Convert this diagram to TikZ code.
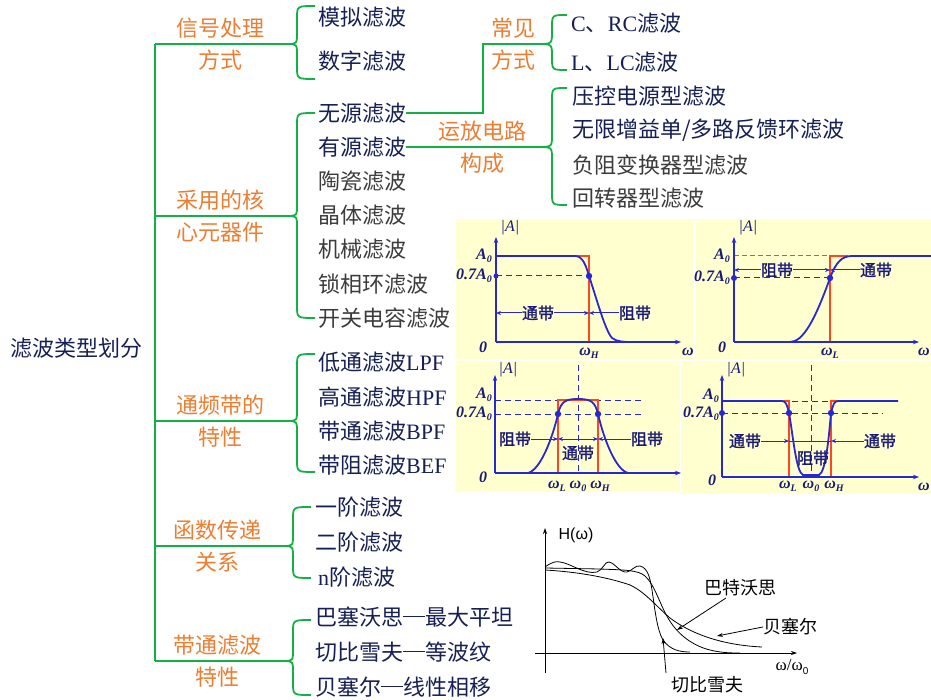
\documentclass[tikz,border=0pt]{standalone}
\usepackage{fontspec}
\setmainfont{Liberation Serif}
\newfontfamily\cjk{Noto Sans CJK SC}
\newfontfamily\cjkb[FakeBold=1.5]{Noto Sans CJK SC}
\newfontfamily\lsans{Liberation Sans}
\usetikzlibrary{arrows.meta}
\definecolor{tgreen}{RGB}{20,176,70}
\definecolor{torange}{RGB}{237,125,49}
\definecolor{tnavy}{RGB}{22,32,85}
\definecolor{tgray}{RGB}{60,60,60}
\definecolor{pblue}{RGB}{40,40,210}
\definecolor{plab}{RGB}{25,25,120}
\definecolor{pred}{RGB}{255,70,30}
\definecolor{pyel}{RGB}{255,255,208}
\newcommand\lat[1]{{\rmfamily #1}}
\newcommand\sub[1]{\raisebox{-0.45ex}{\fontsize{10}{10}\selectfont #1}}
\newcommand\cdash{\raisebox{0.36em}{\rule{1em}{0.07em}}}
\newcommand\mybrace[6]{%
 \draw[conn] (#1,#2) .. controls (#5,#2) .. (#5,{#2-12}) -- (#5,{#3+12}) .. controls (#5,#3) .. (#6,#3);
 \draw[conn] (#1,#2) .. controls (#5,#2) .. (#5,{#2+12}) -- (#5,{#4-12}) .. controls (#5,#4) .. (#6,#4);}
\tikzset{
 cat/.style={text=torange, font=\fontsize{22}{24}\selectfont\cjk, inner sep=0},
 item/.style={text=tnavy, font=\fontsize{22}{24}\selectfont\cjk, anchor=west, inner sep=0},
 gitem/.style={item, text=tgray},
 conn/.style={tgreen, line width=1.8},
 pax/.style={pblue, line width=1.4, -{Stealth[length=6pt,width=4.5pt]}},
 pline/.style={pblue, line width=1.8},
 pdash/.style={pblue, line width=1, dash pattern=on 6pt off 4pt},
 rline/.style={pred, line width=1.3},
 parr/.style={pblue, line width=1, -{Stealth[length=5pt,width=4pt]}},
 ptxt/.style={text=plab, font=\fontsize{16}{17}\selectfont\cjkb, inner sep=0},
 pmath/.style={text=plab, font=\fontsize{16}{17}\selectfont\bfseries\itshape, inner sep=0},
 pabs/.style={text=plab, font=\fontsize{16}{17}\selectfont\itshape, inner sep=0},
 bline/.style={black, line width=0.8},
 barr/.style={black, line width=0.8, -{Stealth[length=6pt,width=4pt]}},
 btxt/.style={text=black, font=\fontsize{18}{20}\selectfont\cjk, inner sep=0},
}
\begin{document}
\begin{tikzpicture}[x=1pt,y=-1pt]
\fill[white] (0,0) rectangle (931,700);
\useasboundingbox (0,0) rectangle (931,700);
% ---------- tree ----------
\node[item] (root) at (10,348) {滤波类型划分};
\node[cat] (k1a) at (220,28) {信号处理};
\node[cat] (k1b) at (220,60) {方式};
\node[cat] (k2a) at (220,200) {采用的核};
\node[cat] (k2b) at (220,232) {心元器件};
\node[cat] (k3a) at (220,405) {通频带的};
\node[cat] (k3b) at (220,437) {特性};
\node[cat] (k4a) at (217,530) {函数传递};
\node[cat] (k4b) at (217,562) {关系};
\node[cat] (k5a) at (217,645) {带通滤波};
\node[cat] (k5b) at (217,677) {特性};
\node[cat] (k6a) at (513,28) {常见};
\node[cat] (k6b) at (513,60) {方式};
\node[cat] (k7a) at (482,131) {运放电路};
\node[cat] (k7b) at (482,163) {构成};

\node[item] (m1) at (318,17) {模拟滤波};
\node[item] (m2) at (318,61) {数字滤波};
\node[item] (c1) at (318,113) {无源滤波};
\node[item] (c2) at (318,147) {有源滤波};
\node[gitem] (c3) at (318,181) {陶瓷滤波};
\node[gitem] (c4) at (318,215) {晶体滤波};
\node[gitem] (c5) at (318,249) {机械滤波};
\node[gitem] (c6) at (318,284) {锁相环滤波};
\node[gitem] (c7) at (318,318) {开关电容滤波};
\node[item] (p1) at (318,362) {低通滤波\lat{LPF}};
\node[item] (p2) at (318,397) {高通滤波\lat{HPF}};
\node[item] (p3) at (318,431) {带通滤波\lat{BPF}};
\node[item] (p4) at (318,465) {带阻滤波\lat{BEF}};
\node[item] (f1) at (315,507) {一阶滤波};
\node[item] (f2) at (315,542) {二阶滤波};
\node[item] (f3) at (318,577) {\lat{n}阶滤波};
\node[item] (b1) at (315,617) {巴塞沃思\cdash 最大平坦};
\node[item] (b2) at (315,652) {切比雪夫\cdash 等波纹};
\node[item] (b3) at (315,687) {贝塞尔\cdash 线性相移};
\node[item] (r1) at (571,23) {\lat{C}、\lat{RC}滤波};
\node[item] (r2) at (571,62) {\lat{L}、\lat{LC}滤波};
\node[item] (o1) at (572,96) {压控电源型滤波};
\node[item] (o2) at (572,130) {无限增益单/多路反馈环滤波};
\node[gitem] (o3) at (572,165) {负阻变换器型滤波};
\node[gitem] (o4) at (572,198) {回转器型滤波};

\draw[conn] (155,44) -- (155,661);
\draw[conn] (155,44) -- (287,44);
\draw[conn] (155,216) -- (287,216);
\draw[conn] (155,421) -- (287,421);
\draw[conn] (155,546) -- (283,546);
\draw[conn] (155,661) -- (283,661);
\mybrace{287}{44}{6}{79}{297}{315}
\mybrace{287}{216}{113}{318}{297}{315}
\mybrace{287}{421}{354}{472}{297}{315}
\mybrace{283}{546}{507}{578}{293}{311}
\mybrace{283}{661}{620}{695}{293}{311}
\draw[conn] (c1.east) -- (483,113) -- (483,44) -- (537,44);
\draw[conn] (c2.east) -- (537,147);
\mybrace{537}{44}{15}{70}{552}{567}
\mybrace{537}{147}{88}{205}{552}{567}

% ---------- panels ----------
\fill[pyel] (456,219) rectangle (694,359);
\fill[pyel] (695,219) rectangle (931,359);
\fill[pyel] (456,361) rectangle (680,492);
\fill[pyel] (681,361) rectangle (931,494);

% ---- plot 1 (LPF) ----
\draw[rline] (496,256) -- (589,256) -- (589,342);
\draw[pdash] (496,276) -- (589,276);
\draw[pline] (496,256) -- (575,256) .. controls (583,256) and (586,266) .. (589,276)
  .. controls (597,300) and (605,330) .. (612,338) .. controls (617,342) and (625,342) .. (632,342);
\draw[pax] (496,342) -- (496,237);
\draw[pax] (496,342) -- (681,342);
\fill[pblue] (589,276) circle (3.2);
\fill[pblue] (496,276) circle (2.5);
\node[pabs] (a1) at (510,228) {|A|};
\node[pmath, anchor=east] (a1A) at (492,256) {A\sub{0}};
\node[pmath, anchor=east] (a1B) at (492,276) {0.7A\sub{0}};
\node[pmath] (a1Z) at (483,347) {0};
\node[pmath] (a1W) at (688,352) {ω};
\node[pmath] (a1H) at (589,353) {ω\sub{H}};
\node[ptxt] (t1a) at (538,313) {通带};
\node[ptxt] (t1b) at (635,313) {阻带};
\draw[parr] (t1a.west) -- (496,313);
\draw[parr] (t1a.east) -- (589,313);
\draw[parr] (t1b.west) -- (589,313);

% ---- plot 2 (HPF) ----
\draw[pred, line width=1, dash pattern=on 5pt off 3pt] (734,256) -- (830,256);
\draw[rline] (830,342) -- (830,256) -- (848,256);
\draw[pdash] (734,278) -- (830,278);
\draw[pline] (734,342) -- (790,342) .. controls (803,342) and (815,320) .. (830,278)
  .. controls (836,262) and (842,256) .. (852,256) -- (932,256);
\draw[pax] (734,342) -- (734,237);
\draw[pax] (734,342) -- (919,342);
\fill[pblue] (830,278) circle (3.2);
\fill[pblue] (734,278) circle (3);
\node[pabs] (a2) at (748,228) {|A|};
\node[pmath, anchor=east] (a2A) at (730,256) {A\sub{0}};
\node[pmath, anchor=east] (a2B) at (730,278) {0.7A\sub{0}};
\node[pmath] (a2Z) at (722,347) {0};
\node[pmath] (a2W) at (924,352) {ω};
\node[pmath] (a2L) at (830,353) {ω\sub{L}};
\node[ptxt] (t2a) at (777,270) {阻带};
\node[ptxt] (t2b) at (876,270) {通带};
\draw[parr] (t2a.west) -- (734,270);
\draw[parr] (t2a.east) -- (830,270);
\draw[parr] (t2b.west) -- (830,270);

% ---- plot 3 (BPF) ----
\draw[pdash] (495,400) -- (642,400);
\draw[pdash] (495,414) -- (642,414);
\draw[pdash] (578,365) -- (578,473);
\draw[rline] (558,473) -- (558,400) -- (598,400) -- (598,473);
\draw[pline] (528,473) .. controls (540,470) and (552,440) .. (558,414)
  .. controls (561,401) and (566,399) .. (578,399) .. controls (590,399) and (595,401) .. (598,414)
  .. controls (604,440) and (616,470) .. (628,473);
\draw[pax] (495,473) -- (495,375);
\draw[pax] (495,473) -- (681,473);
\fill[pblue] (558,414) circle (3.2);
\fill[pblue] (598,414) circle (3.2);
\node[pabs] (a3) at (508,370) {|A|};
\node[pmath, anchor=east] (a3A) at (492,395) {A\sub{0}};
\node[pmath, anchor=east] (a3B) at (492,414) {0.7A\sub{0}};
\node[pmath] (a3Z) at (483,477) {0};
\node[pmath] (a3L) at (557,486) {ω\sub{L}};
\node[pmath] (a3O) at (578,486) {ω\sub{0}};
\node[pmath] (a3H) at (600,486) {ω\sub{H}};
\node[ptxt] (t3a) at (515,439) {阻带};
\node[ptxt] (t3b) at (578,453) {通带};
\node[ptxt] (t3c) at (647,439) {阻带};
\draw[parr] (t3a.east) -- (558,439);
\draw[pblue, line width=1, {Stealth[length=5pt,width=4pt]}-{Stealth[length=5pt,width=4pt]}] (558,439) -- (598,439);
\draw[parr] (t3c.west) -- (598,439);

% ---- plot 4 (BEF) ----
\draw[pdash] (782,401) -- (838,401);
\draw[pdash] (722,413) -- (883,413);
\draw[pdash] (811,365) -- (811,477);
\draw[rline] (783,401) -- (789,401) -- (789,477);
\draw[rline] (831,477) -- (831,401) -- (837,401);
\draw[pline] (722,401) -- (782,401) .. controls (786,401) and (787,405) .. (789,413)
  .. controls (793,435) and (796,472) .. (803,475) -- (819,475)
  .. controls (826,472) and (829,435) .. (831,413) .. controls (833,405) and (834,401) .. (838,401) -- (898,401);
\draw[pax] (722,477) -- (722,375);
\draw[pax] (722,477) -- (919,477);
\fill[pblue] (789,413) circle (3.2);
\fill[pblue] (831,413) circle (3.2);
\fill[pblue] (722,413) circle (3);
\node[pabs] (a4) at (736,370) {|A|};
\node[pmath, anchor=east] (a4A) at (719,396) {A\sub{0}};
\node[pmath, anchor=east] (a4B) at (719,414) {0.7A\sub{0}};
\node[pmath] (a4Z) at (712,480) {0};
\node[pmath] (a4W) at (924,487) {ω};
\node[pmath] (a4L) at (788,486) {ω\sub{L}};
\node[pmath] (a4O) at (811,486) {ω\sub{0}};
\node[pmath] (a4H) at (834,486) {ω\sub{H}};
\node[ptxt] (t4a) at (745,441) {通带};
\node[ptxt] (t4b) at (813,458) {阻带};
\node[ptxt] (t4c) at (880,441) {通带};
\draw[parr] (t4a.east) -- (789,441);
\draw[pblue, line width=1] (789,441) -- (831,441);
\draw[parr] (t4c.west) -- (831,441);

% ---------- bottom chart ----------
\draw[barr] (545,673) -- (545,528);
\draw[barr] (535,653) -- (797,653);
\node[inner sep=0, font=\fontsize{16}{17}\selectfont\lsans] (hw) at (576,535) {H(ω)};
\node[inner sep=0, font=\fontsize{17}{18}\selectfont] (ww) at (792,667) {ω/ω\sub{\lsans 0}};
% Chebyshev
\draw[bline] (545,567) .. controls (552,562) and (556,561) .. (560,562)
  .. controls (570,563) and (585,575) .. (597,572) .. controls (603,570) and (605,561) .. (609,562)
  .. controls (615,563) and (620,573) .. (627,572) .. controls (632,571) and (635,565) .. (640,566)
  .. controls (648,568) and (650,578) .. (652,590) .. controls (655,610) and (657,630) .. (663,640)
  .. controls (670,650) and (680,652) .. (690,652);
% Butterworth
\draw[bline] (545,568) -- (600,569) .. controls (625,570) and (638,570) .. (645,576)
  .. controls (655,585) and (660,605) .. (668,618) .. controls (676,632) and (690,645) .. (710,650)
  .. controls (722,653) and (732,653) .. (740,653);
% Bessel
\draw[bline] (545,570) .. controls (580,572) and (610,578) .. (630,585)
  .. controls (645,592) and (655,605) .. (670,618) .. controls (690,633) and (720,645) .. (762,647);
\node[btxt] (lbw) at (740,588) {巴特沃思};
\node[btxt] (lbs) at (790,627) {贝塞尔};
\node[btxt] (lcb) at (707,685) {切比雪夫};
\draw[barr] (726,598) -- (677,630);
\draw[barr] (lbs.west) -- (717,636);
\draw[barr] (666,673) -- (663,638);
\end{tikzpicture}
\end{document}
